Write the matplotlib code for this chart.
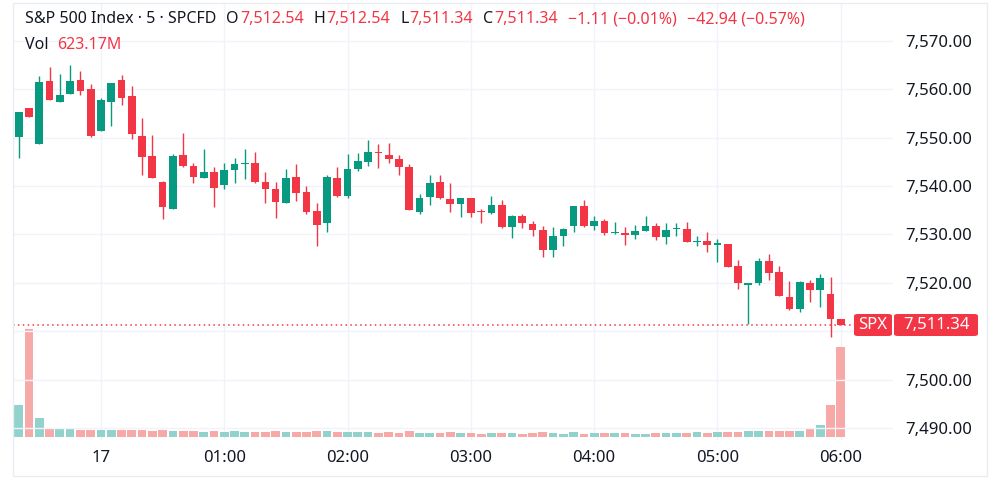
import matplotlib
matplotlib.use("Agg")
import matplotlib.pyplot as plt
from matplotlib.patches import Rectangle, FancyBboxPatch
import numpy as np

plt.rcParams['font.family'] = ['Noto Sans', 'DejaVu Sans']

# 5-minute bars, 23:20 -> 06:00
opens = [7550.2, 7556.1, 7548.7, 7561.7, 7557.4, 7559.0, 7561.9, 7560.1, 7551.4, 7557.3,
         7561.8, 7558.5, 7550.4, 7546.2, 7540.9, 7535.3, 7546.4, 7544.2, 7541.7, 7542.9,
         7540.2, 7543.2, 7544.6, 7544.7, 7540.8, 7539.3, 7536.5, 7541.8, 7538.8, 7534.9,
         7532.3, 7541.6, 7538.0, 7543.5, 7545.0, 7547.0, 7546.3, 7545.6, 7543.9, 7534.7,
         7537.7, 7540.8, 7537.3, 7536.3, 7537.5, 7534.9, 7534.4, 7536.1, 7531.6, 7533.7,
         7532.2, 7530.8, 7526.7, 7529.6, 7531.7, 7535.8, 7531.8, 7532.8, 7530.3, 7530.3,
         7529.9, 7530.7, 7531.7, 7529.4, 7531.1, 7531.2, 7528.5, 7528.6, 7527.9, 7528.0,
         7523.4, 7519.6, 7520.0, 7524.5, 7522.3, 7517.1, 7514.5, 7520.0, 7518.6, 7517.6,
         7512.54]
highs = [7555.3, 7556.2, 7562.7, 7564.5, 7563.1, 7565.0, 7563.8, 7561.0, 7558.1, 7561.3,
         7563.0, 7560.7, 7554.1, 7550.6, 7541.0, 7546.6, 7551.0, 7544.8, 7547.6, 7544.0,
         7544.7, 7545.7, 7547.7, 7547.0, 7542.9, 7540.9, 7543.5, 7544.6, 7539.9, 7536.4,
         7542.3, 7544.0, 7546.6, 7546.8, 7549.5, 7548.7, 7548.8, 7546.4, 7544.5, 7538.4,
         7542.3, 7542.3, 7540.7, 7537.5, 7537.6, 7535.2, 7538.0, 7537.1, 7533.9, 7534.2,
         7532.8, 7531.8, 7531.6, 7531.4, 7535.9, 7537.2, 7533.7, 7533.2, 7532.6, 7531.5,
         7532.0, 7533.7, 7532.4, 7532.4, 7532.4, 7532.5, 7529.6, 7530.4, 7529.0, 7528.0,
         7524.7, 7520.0, 7525.2, 7525.9, 7523.5, 7520.3, 7520.3, 7520.5, 7521.8, 7521.2,
         7512.54]
lows = [7545.7, 7554.2, 7548.6, 7557.7, 7557.3, 7558.9, 7558.7, 7550.1, 7551.3, 7552.4,
        7556.8, 7549.7, 7542.2, 7541.6, 7533.1, 7535.2, 7544.0, 7540.6, 7541.6, 7535.7,
        7539.3, 7540.6, 7541.5, 7540.6, 7536.4, 7533.3, 7536.4, 7536.9, 7534.2, 7527.5,
        7530.4, 7537.8, 7537.5, 7543.0, 7544.2, 7543.7, 7544.8, 7542.3, 7535.0, 7534.2,
        7536.1, 7537.3, 7534.7, 7533.5, 7533.6, 7532.4, 7534.3, 7531.3, 7529.2, 7531.3,
        7529.7, 7525.3, 7525.4, 7527.6, 7530.4, 7531.6, 7530.9, 7529.9, 7530.0, 7527.8,
        7529.0, 7530.6, 7528.9, 7528.0, 7529.6, 7528.4, 7527.6, 7526.4, 7524.2, 7523.2,
        7518.8, 7511.4, 7519.5, 7520.5, 7517.2, 7514.3, 7514.0, 7516.0, 7514.9, 7508.7,
        7511.34]
closes = [7555.2, 7554.3, 7561.4, 7557.8, 7558.8, 7561.6, 7559.6, 7550.4, 7557.8, 7561.2,
          7558.1, 7550.8, 7546.0, 7541.7, 7535.6, 7546.2, 7544.2, 7541.9, 7542.8, 7539.5,
          7543.2, 7544.5, 7544.8, 7540.9, 7539.3, 7536.7, 7541.6, 7538.6, 7534.7, 7532.0,
          7541.8, 7538.0, 7543.5, 7545.2, 7547.1, 7546.8, 7545.5, 7544.0, 7535.1, 7537.5,
          7540.7, 7537.5, 7536.3, 7537.5, 7534.5, 7534.7, 7536.1, 7531.5, 7533.8, 7532.4,
          7531.0, 7526.8, 7529.6, 7531.1, 7535.8, 7531.8, 7532.7, 7530.3, 7530.5, 7529.9,
          7530.7, 7531.7, 7529.5, 7531.0, 7531.3, 7528.5, 7528.7, 7527.8, 7528.0, 7523.3,
          7519.9, 7520.0, 7524.5, 7522.1, 7517.3, 7514.5, 7520.1, 7518.6, 7520.9, 7512.45,
          7511.34]
# volume in millions
volumes = [221, 751, 128, 54, 54, 54, 44, 44, 44, 44,
           44, 44, 44, 40, 49, 40, 40, 40, 35, 40,
           35, 40, 30, 30, 35, 40, 30, 30, 30, 40,
           40, 30, 30, 30, 30, 28, 30, 28, 40, 26,
           26, 26, 30, 26, 26, 19, 26, 26, 26, 19,
           26, 30, 26, 19, 30, 19, 26, 26, 26, 26,
           19, 19, 26, 26, 26, 26, 30, 29, 33, 31,
           33, 37, 37, 37, 37, 37, 42, 51, 84, 218,
           623.17]

tick_bars = [8, 20, 32, 44, 56, 68, 80]
tick_labels = ['17', '01:00', '02:00', '03:00', '04:00', '05:00', '06:00']
price_ticks = [7490, 7500, 7510, 7520, 7530, 7540, 7550, 7560, 7570]
last_price = 7511.34

UP = '#089981'
DOWN = '#f23645'
UP_VOL = '#92d2cc'
DOWN_VOL = '#f7a9a7'
TXT = '#131722'
GRID = '#f0f3fa'
FS = 12
HFS = 11.5

o = np.array(opens); h = np.array(highs); l = np.array(lows); c = np.array(closes)
x = np.arange(len(o))
up = c >= o

fig = plt.figure(figsize=(10, 4.82), dpi=100)
ax = fig.add_axes([0.013, 0.087, 0.88, 0.9068])
ax2 = ax.twinx()

# volume (behind)
ax.bar(x, volumes, width=0.85, color=[UP_VOL if u else DOWN_VOL for u in up], zorder=2)
ax.set_ylim(-23, 3023)
ax.set_yticks([])
ax.set_xlim(-0.56, 85.08)
ax.set_xticks(tick_bars)
ax.set_xticklabels(tick_labels)
ax.tick_params(axis='x', length=0, pad=7, labelsize=FS, labelcolor=TXT)
ax.get_xticklabels()[0].set_fontweight('bold')
ax.grid(axis='x', color=GRID, lw=1, zorder=0)
ax.set_axisbelow(True)

# candles
cols = np.where(up, UP, DOWN)
ax2.vlines(x, l, h, colors=cols, lw=1.0, zorder=3)
body_lo = np.minimum(o, c)
body_h = np.maximum(np.abs(c - o), 0.22)
ax2.bar(x, body_h, bottom=body_lo, width=0.75, color=cols, zorder=4)
ax2.axhline(last_price, color=DOWN, lw=1.1, ls=(0, (1, 2.2)), zorder=5)

ax2.set_ylim(7487.5, 7577.8)
ax2.set_yticks(price_ticks)
ax2.set_yticklabels(['' if t == 7510 else f'{t:,.2f}' for t in price_ticks])
ax2.tick_params(axis='y', length=0, pad=57, labelsize=FS, labelcolor=TXT)
for lab in ax2.get_yticklabels():
    lab.set_ha('right')
ax2.grid(axis='y', color=GRID, lw=1, zorder=0)
ax2.set_axisbelow(True)

for a in (ax, ax2):
    for s in a.spines.values():
        s.set_visible(False)

W, H = 1000, 482
def fx(px):
    return px / W
def fy(py):
    return 1 - py / H

# outer frame
fig.patches.append(Rectangle((fx(13), fy(476)), fx(987) - fx(13), fy(3) - fy(476),
                             transform=fig.transFigure, fill=False, ec='#e9ecf1', lw=1))

# header laid out left to right: (text, colour, gap in px before it)
renderer = fig.canvas.get_renderer()
def row(py, pieces, start=25):
    cur = start
    for s, col, gap in pieces:
        cur += gap
        t = fig.text(fx(cur), fy(py), s, color=col, fontsize=HFS, va='center', ha='left')
        cur = t.get_window_extent(renderer).x1

row(19, [("S&P 500 Index · 5 · SPCFD", TXT, 0),
         ("O", TXT, 10), ("7,512.54", DOWN, 1),
         ("H", TXT, 10), ("7,512.54", DOWN, 1),
         ("L", TXT, 10), ("7,511.34", DOWN, 1),
         ("C", TXT, 10), ("7,511.34", DOWN, 1),
         ("−1.11 (−0.01%)", DOWN, 10),
         ("−42.94 (−0.57%)", DOWN, 10)])
row(45, [("Vol", TXT, 0), ("623.17M", DOWN, 9)])

# last price label
for x0, x1 in [(854, 892), (894, 978)]:
    fig.patches.append(FancyBboxPatch((fx(x0), fy(336)), fx(x1) - fx(x0), fy(314) - fy(336),
                                      boxstyle='round,pad=0,rounding_size=0.004',
                                      transform=fig.transFigure, fc=DOWN, ec='none'))
fig.text(fx(873), fy(325), "SPX", color='white', fontsize=FS, ha='center', va='center')
fig.text(fx(936), fy(325), f"{last_price:,.2f}", color='white', fontsize=FS, ha='center', va='center')

fig.savefig('out.png', dpi=100, facecolor='white')
